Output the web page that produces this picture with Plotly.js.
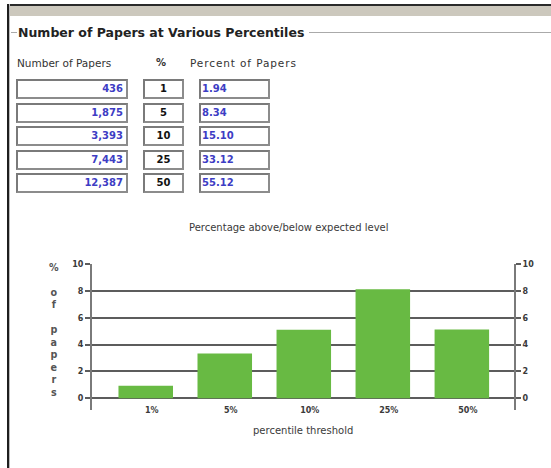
<!DOCTYPE html>
<html>
<head>
<meta charset="utf-8">
<script src="https://cdn.plot.ly/plotly-3.0.1.min.js"></script>
<style>
  html, body { margin: 0; padding: 0; background: #fff; }
  #page { position: relative; width: 551px; height: 468px; overflow: hidden; background: #fff; font-family: "DejaVu Sans", Verdana, sans-serif; }
  #chart { position: absolute; left: 0; top: 0; width: 551px; height: 468px; }
  .ov { position: absolute; pointer-events: none; }
  .box { position: absolute; box-sizing: border-box; height: 20px; border: 2px solid #7a7a7a; border-right-color: #8c8c8c; border-bottom-color: #8c8c8c; background: #fff; font-weight: bold; font-size: 10px; line-height: 16px; white-space: nowrap; }
  .hdr { position: absolute; font-size: 10.5px; color: #333; line-height: 12px; white-space: nowrap; }
</style>
</head>
<body>
<div id="page">
  <div id="chart"></div>
  <div id="overlay"></div>
</div>
<script>
// ---------- data ----------
var numPapers = [436, 1875, 3393, 7443, 12387];
var percentiles = [1, 5, 10, 25, 50];
var percentOfPapers = ['1.94', '8.34', '15.10', '33.12', '55.12'];

var categories = ['1%', '5%', '10%', '25%', '50%'];
var aboveExpected = [0.94, 3.34, 5.10, 8.12, 5.12];
var yTicks = [0, 2, 4, 6, 8, 10];

var panelTitle = 'Number of Papers at Various Percentiles';
var colHeaders = ['Number of Papers', '%', 'Percent of Papers'];
var chartTitle = 'Percentage above/below expected level';
var xTitle = 'percentile threshold';
var yTitle = '%<br><br>o<br>f<br><br>p<br>a<br>p<br>e<br>r<br>s';

// ---------- HTML frame & table ----------
var ov = document.getElementById('overlay');
function add(html) { ov.insertAdjacentHTML('beforeend', html); }
// window frame
add('<div class="ov" style="left:7px;top:4px;width:544px;height:2px;background:#2a2a2a"></div>');
add('<div class="ov" style="left:9px;top:6px;width:542px;height:10px;background:#ccc8bd"></div>');
add('<div class="ov" style="left:7px;top:4px;width:2px;height:464px;background:#1e1e1e"></div>');
add('<div class="ov" style="left:9px;top:4px;width:1px;height:464px;background:#bbb"></div>');
// fieldset line + legend
add('<div class="ov" style="left:11px;top:32px;width:6px;height:1px;background:#aaa"></div>');
add('<div class="ov" style="left:309px;top:32px;width:242px;height:1px;background:#aaa"></div>');
add('<div class="ov" style="left:18px;top:25px;font-weight:bold;font-size:12.5px;line-height:15px;color:#222;white-space:nowrap">' + panelTitle + '</div>');
// headers
add('<div class="hdr" style="left:17px;top:57px">' + colHeaders[0] + '</div>');
add('<div class="hdr" style="left:156px;top:57px;font-weight:bold;font-size:10px">' + colHeaders[1] + '</div>');
add('<div class="hdr" style="left:190px;top:57px;letter-spacing:0.9px">' + colHeaders[2] + '</div>');
// rows
for (var i = 0; i < numPapers.length; i++) {
  var rowTop = Math.round(79 + i * 23.6);
  add('<div class="box" style="left:16px;top:' + rowTop + 'px;width:112px;text-align:right;padding-right:3px;color:#3d3dc4">' + numPapers[i].toLocaleString('en-US') + '</div>');
  add('<div class="box" style="left:143px;top:' + rowTop + 'px;width:41px;text-align:center;color:#111">' + percentiles[i] + '</div>');
  add('<div class="box" style="left:199px;top:' + rowTop + 'px;width:71px;text-align:left;padding-left:1px;color:#3d3dc4">' + percentOfPapers[i] + '</div>');
}

// ---------- chart ----------
var tickFont = { family: 'DejaVu Sans', size: 8, color: '#3a3a3a', weight: 'bold' };
var yRange = [-0.87, 10];

var traces = [
  {
    type: 'bar',
    x: categories,
    y: aboveExpected,
    width: 0.69,
    marker: { color: '#68ba43', line: { width: 0 } },
    hoverinfo: 'skip',
    showlegend: false
  },
  {
    type: 'scatter',
    mode: 'none',
    x: categories,
    y: aboveExpected,
    yaxis: 'y2',
    hoverinfo: 'skip',
    showlegend: false
  }
];

var layout = {
  width: 551,
  height: 468,
  margin: { l: 92, r: 37, t: 264, b: 58 },
  paper_bgcolor: 'rgba(0,0,0,0)',
  plot_bgcolor: '#ffffff',
  font: { family: 'DejaVu Sans', color: '#3a3a3a' },
  showlegend: false,
  xaxis: {
    type: 'category',
    range: [-0.68, 4.66],
    showgrid: false,
    zeroline: false,
    showline: false,
    ticks: '',
    tickfont: tickFont,
    ticklabelstandoff: -6,
    ticklabelshift: 6,
    fixedrange: true
  },
  yaxis: {
    range: yRange,
    tickvals: yTicks,
    ticktext: yTicks.map(String),
    showgrid: true,
    gridcolor: '#5c5c5c',
    gridwidth: 2,
    zeroline: false,
    showline: true,
    linecolor: '#7a7a7a',
    linewidth: 2,
    ticks: 'outside',
    ticklen: 5,
    tickwidth: 2,
    tickcolor: '#5c5c5c',
    tickfont: tickFont,
    fixedrange: true
  },
  yaxis2: {
    overlaying: 'y',
    side: 'right',
    range: yRange,
    tickvals: yTicks,
    ticktext: yTicks.map(String),
    showgrid: false,
    zeroline: false,
    showline: true,
    linecolor: '#7a7a7a',
    linewidth: 2,
    ticks: 'outside',
    ticklen: 5,
    tickwidth: 2,
    tickcolor: '#5c5c5c',
    tickfont: tickFont,
    fixedrange: true
  },
  annotations: [
    { text: chartTitle, xref: 'paper', yref: 'paper', x: 0.468, y: 1.247, xanchor: 'center', yanchor: 'middle', showarrow: false, font: { size: 10, color: '#3a3a3a' } },
    { text: xTitle, xref: 'paper', yref: 'paper', x: 0.5, y: -0.137, xanchor: 'center', yanchor: 'middle', showarrow: false, font: { size: 10, color: '#3a3a3a' } },
    { text: yTitle, xref: 'paper', yref: 'paper', x: -0.091, y: 0.545, xanchor: 'center', yanchor: 'middle', showarrow: false, font: { size: 9.6, color: '#555', weight: 'bold' } }
  ]
};

Plotly.newPlot('chart', traces, layout, { staticPlot: true, displayModeBar: false });
</script>
</body>
</html>
